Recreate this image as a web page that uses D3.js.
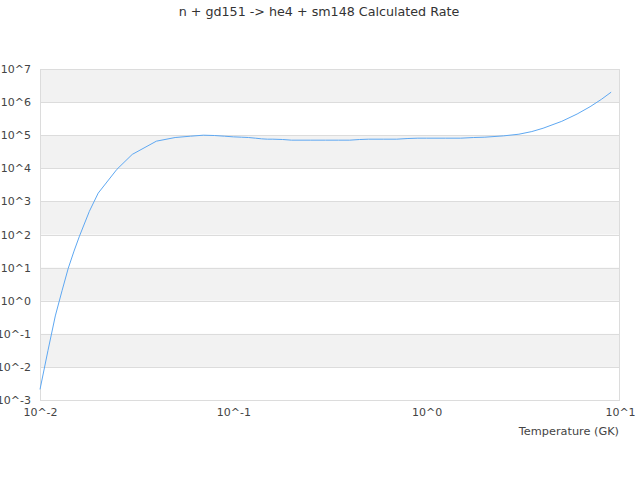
<!DOCTYPE html>
<html>
<head>
<meta charset="utf-8">
<script src="https://cdn.jsdelivr.net/npm/d3@7"></script>
<style>
  html, body { margin: 0; padding: 0; background: #fff; }
  svg { display: block; font-family: "DejaVu Sans", sans-serif; }
</style>
</head>
<body>
<svg id="chart" width="640" height="480"></svg>
<script>
const title = "n + gd151 -> he4 + sm148 Calculated Rate";
const xLabel = "Temperature (GK)";
const temperatures = [0.01, 0.011, 0.012, 0.013, 0.014, 0.015, 0.016, 0.018, 0.02, 0.025, 0.03, 0.04, 0.05, 0.06, 0.07, 0.08, 0.09,
  0.1, 0.11, 0.12, 0.13, 0.14, 0.15, 0.16, 0.18, 0.2, 0.25, 0.3, 0.35, 0.4, 0.45, 0.5, 0.6, 0.7, 0.8, 0.9,
  1, 1.25, 1.5, 1.75, 2, 2.5, 3, 3.5, 4, 5, 6, 7, 8, 9];
const log10Rates = [-2.68, -1.5, -0.46, 0.3, 0.98, 1.5, 1.95, 2.7, 3.25, 3.97, 4.42, 4.82, 4.93, 4.97, 5.0, 4.99, 4.97,
  4.95, 4.94, 4.93, 4.91, 4.89, 4.88, 4.88, 4.87, 4.85, 4.85, 4.85, 4.85, 4.85, 4.87, 4.88, 4.88, 4.88, 4.90, 4.91,
  4.91, 4.91, 4.91, 4.93, 4.94, 4.98, 5.03, 5.11, 5.21, 5.42, 5.64, 5.86, 6.08, 6.30];
const rates = log10Rates.map(v => Math.pow(10, v));
const yTickExps = [-3, -2, -1, 0, 1, 2, 3, 4, 5, 6, 7];
const xTickExps = [-2, -1, 0, 1];

const svg = d3.select("#chart");
const m = {left: 40, right: 620, top: 69, bottom: 400};
const x = d3.scaleLog().domain([0.01, 10]).range([m.left, m.right]);
const y = d3.scaleLog().domain([1e-3, 1e7]).range([m.bottom, m.top]);

// alternating bands
const bands = yTickExps.slice(0, -1).filter(e => ((e % 2) + 2) % 2 === 0);
svg.append("g").selectAll("rect").data(bands).join("rect")
  .attr("x", m.left).attr("width", m.right - m.left)
  .attr("y", e => y(Math.pow(10, e + 1)))
  .attr("height", e => y(Math.pow(10, e)) - y(Math.pow(10, e + 1)))
  .attr("fill", "#f2f2f2");

// horizontal gridlines
svg.append("g").selectAll("line").data(yTickExps).join("line")
  .attr("x1", m.left).attr("x2", m.right)
  .attr("y1", e => Math.round(y(Math.pow(10, e))) + 0.5)
  .attr("y2", e => Math.round(y(Math.pow(10, e))) + 0.5)
  .attr("stroke", "#dcdcdc").attr("stroke-width", 1);

// border
svg.append("rect").attr("x", m.left + 0.5).attr("y", Math.round(m.top) + 0.5)
  .attr("width", m.right - m.left - 1).attr("height", m.bottom - m.top)
  .attr("fill", "none").attr("stroke", "#dcdcdc");

// y axis
const yAxis = d3.axisLeft(y).tickValues(yTickExps.map(e => Math.pow(10, e)))
  .tickFormat(d => "10^" + Math.round(Math.log10(d))).tickSize(0).tickPadding(9);
const gy = svg.append("g").attr("transform", `translate(${m.left},0)`).call(yAxis);
gy.select(".domain").remove();
gy.selectAll("text").attr("fill", "#444").attr("font-size", 11).attr("font-family", "DejaVu Sans, sans-serif");

// x axis
const xAxis = d3.axisBottom(x).tickValues(xTickExps.map(e => Math.pow(10, e)))
  .tickFormat(d => "10^" + Math.round(Math.log10(d))).tickSize(0).tickPadding(8);
const gx = svg.append("g").attr("transform", `translate(0,${m.bottom})`).call(xAxis);
gx.select(".domain").remove();
gx.selectAll("text").attr("fill", "#444").attr("font-size", 11).attr("font-family", "DejaVu Sans, sans-serif");

// line
const line = d3.line().x((d, i) => x(temperatures[i])).y(d => y(d));
svg.append("path").datum(rates).attr("d", line)
  .attr("fill", "none").attr("stroke", "#5ea8f2").attr("stroke-width", 1);

// title
svg.append("text").attr("x", 319).attr("y", 16).attr("text-anchor", "middle")
  .attr("font-size", 12.7).attr("fill", "#333").text(title);

// x label
svg.append("text").attr("x", 619).attr("y", 435).attr("text-anchor", "end")
  .attr("font-size", 11.3).attr("fill", "#444").text(xLabel);
</script>
</body>
</html>
